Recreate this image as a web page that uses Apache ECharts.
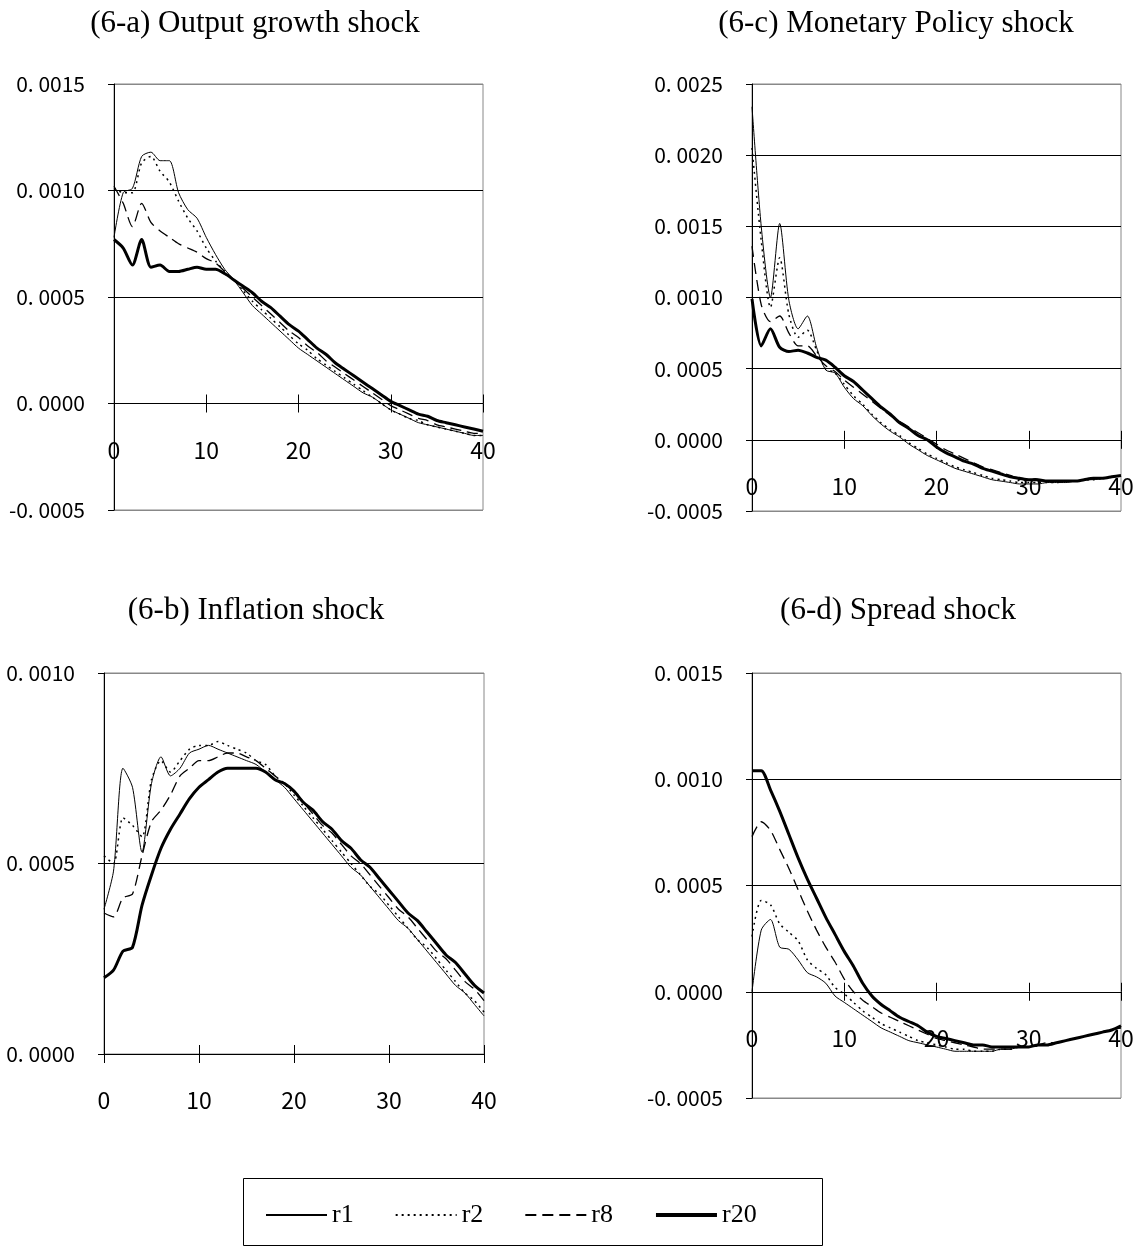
<!DOCTYPE html>
<html>
<head>
<meta charset="utf-8">
<script src="https://cdn.jsdelivr.net/npm/echarts@6/dist/echarts.min.js"></script>
<style>
	html, body { margin: 0; padding: 0; background: #fff; }
	#main { width: 1137px; height: 1247px; }
</style>
</head>
<body>
<div id="main"></div>
<script>
	// series names (legend)
	var seriesNames = [ 'r1', 'r2', 'r8', 'r20' ];

	// (6-a) Output growth shock
	var aR1 = [ 0.00078, 0.00099, 0.00101, 0.00116, 0.00118, 0.00114, 0.00114, 0.00099, 0.00091, 0.00087, 0.00078, 0.00070, 0.00063, 0.00058, 0.00052, 0.00046, 0.00042, 0.00038, 0.00034, 0.00030, 0.00026, 0.00023, 0.00020, 0.00017, 0.00014, 0.00011, 0.00008, 0.00005, 0.00003, 0.00000, -0.00003, -0.00005, -0.00007, -0.00009, -0.00010, -0.00011, -0.00012, -0.00013, -0.00014, -0.00015, -0.00015 ];
	var aR2 = [ 0.00101, 0.00099, 0.00099, 0.00113, 0.00116, 0.00109, 0.00104, 0.00095, 0.00087, 0.00081, 0.00073, 0.00067, 0.00062, 0.00058, 0.00053, 0.00048, 0.00044, 0.00040, 0.00036, 0.00032, 0.00028, 0.00025, 0.00021, 0.00018, 0.00015, 0.00012, 0.00009, 0.00006, 0.00003, 0.00000, -0.00003, -0.00005, -0.00007, -0.00008, -0.00010, -0.00011, -0.00012, -0.00013, -0.00014, -0.00015, -0.00015 ];
	var aR8 = [ 0.00102, 0.00094, 0.00083, 0.00094, 0.00085, 0.00081, 0.00078, 0.00075, 0.00073, 0.00071, 0.00068, 0.00066, 0.00062, 0.00058, 0.00054, 0.00050, 0.00046, 0.00042, 0.00038, 0.00034, 0.00031, 0.00027, 0.00024, 0.00020, 0.00017, 0.00014, 0.00011, 0.00008, 0.00005, 0.00002, -0.00001, -0.00003, -0.00005, -0.00007, -0.00008, -0.00010, -0.00011, -0.00012, -0.00013, -0.00014, -0.00014 ];
	var aR20 = [ 0.00077, 0.00073, 0.00065, 0.00077, 0.00064, 0.00065, 0.00062, 0.00062, 0.00063, 0.00064, 0.00063, 0.00063, 0.00061, 0.00058, 0.00055, 0.00052, 0.00048, 0.00045, 0.00041, 0.00037, 0.00034, 0.00030, 0.00026, 0.00023, 0.00019, 0.00016, 0.00013, 0.00010, 0.00007, 0.00004, 0.00001, -0.00001, -0.00003, -0.00005, -0.00006, -0.00008, -0.00009, -0.00010, -0.00011, -0.00012, -0.00013 ];

	// (6-c) Monetary Policy shock
	var cR1 = [ 0.00234, 0.00150, 0.00100, 0.00152, 0.00098, 0.00078, 0.00087, 0.00065, 0.00049, 0.00047, 0.00037, 0.00029, 0.00024, 0.00017, 0.00011, 0.00006, 0.00002, -0.00003, -0.00007, -0.00011, -0.00014, -0.00017, -0.00020, -0.00022, -0.00024, -0.00026, -0.00028, -0.00029, -0.00030, -0.00031, -0.00031, -0.00031, -0.00030, -0.00030, -0.00030, -0.00029, -0.00028, -0.00028, -0.00027, -0.00026, -0.00025 ];
	var cR2 = [ 0.00205, 0.00140, 0.00093, 0.00128, 0.00088, 0.00072, 0.00077, 0.00063, 0.00050, 0.00047, 0.00039, 0.00031, 0.00025, 0.00018, 0.00012, 0.00007, 0.00003, -0.00002, -0.00006, -0.00010, -0.00013, -0.00016, -0.00019, -0.00021, -0.00023, -0.00025, -0.00027, -0.00028, -0.00029, -0.00030, -0.00030, -0.00030, -0.00030, -0.00030, -0.00029, -0.00029, -0.00028, -0.00028, -0.00027, -0.00026, -0.00025 ];
	var cR8 = [ 0.00136, 0.00095, 0.00083, 0.00087, 0.00075, 0.00066, 0.00066, 0.00059, 0.00052, 0.00048, 0.00042, 0.00037, 0.00032, 0.00027, 0.00022, 0.00017, 0.00013, 0.00009, 0.00005, 0.00001, -0.00003, -0.00007, -0.00010, -0.00013, -0.00016, -0.00019, -0.00021, -0.00023, -0.00025, -0.00027, -0.00028, -0.00029, -0.00029, -0.00029, -0.00029, -0.00029, -0.00028, -0.00027, -0.00027, -0.00026, -0.00025 ];
	var cR20 = [ 0.00099, 0.00066, 0.00078, 0.00065, 0.00062, 0.00063, 0.00061, 0.00058, 0.00056, 0.00051, 0.00045, 0.00041, 0.00035, 0.00029, 0.00023, 0.00018, 0.00012, 0.00008, 0.00003, 0.00000, -0.00005, -0.00009, -0.00012, -0.00015, -0.00017, -0.00020, -0.00022, -0.00024, -0.00026, -0.00027, -0.00028, -0.00028, -0.00029, -0.00029, -0.00029, -0.00029, -0.00028, -0.00027, -0.00027, -0.00026, -0.00025 ];

	// (6-b) Inflation shock
	var bR1 = [ 0.00038, 0.00048, 0.00075, 0.00070, 0.00053, 0.00071, 0.00078, 0.00073, 0.00075, 0.00079, 0.00080, 0.00081, 0.00080, 0.00079, 0.00078, 0.00077, 0.00076, 0.00074, 0.00072, 0.00070, 0.00067, 0.00064, 0.00061, 0.00058, 0.00055, 0.00052, 0.00049, 0.00047, 0.00044, 0.00041, 0.00038, 0.00035, 0.00033, 0.00030, 0.00027, 0.00024, 0.00021, 0.00018, 0.00016, 0.00013, 0.00010 ];
	var bR2 = [ 0.00052, 0.00050, 0.00062, 0.00060, 0.00057, 0.00072, 0.00077, 0.00074, 0.00077, 0.00080, 0.00081, 0.00081, 0.00082, 0.00081, 0.00080, 0.00079, 0.00077, 0.00076, 0.00073, 0.00071, 0.00068, 0.00065, 0.00062, 0.00059, 0.00056, 0.00053, 0.00050, 0.00047, 0.00044, 0.00042, 0.00039, 0.00036, 0.00033, 0.00030, 0.00028, 0.00025, 0.00022, 0.00019, 0.00016, 0.00014, 0.00011 ];
	var bR8 = [ 0.00037, 0.00036, 0.00041, 0.00042, 0.00052, 0.00061, 0.00064, 0.00068, 0.00073, 0.00075, 0.00077, 0.00077, 0.00078, 0.00079, 0.00079, 0.00078, 0.00077, 0.00075, 0.00073, 0.00071, 0.00069, 0.00066, 0.00063, 0.00060, 0.00058, 0.00055, 0.00052, 0.00050, 0.00047, 0.00044, 0.00041, 0.00038, 0.00036, 0.00033, 0.00030, 0.00027, 0.00025, 0.00022, 0.00019, 0.00017, 0.00014 ];
	var bR20 = [ 0.00020, 0.00022, 0.00027, 0.00028, 0.00039, 0.00047, 0.00054, 0.00059, 0.00063, 0.00067, 0.00070, 0.00072, 0.00074, 0.00075, 0.00075, 0.00075, 0.00075, 0.00074, 0.00072, 0.00071, 0.00069, 0.00066, 0.00064, 0.00061, 0.00059, 0.00056, 0.00054, 0.00051, 0.00049, 0.00046, 0.00043, 0.00040, 0.00037, 0.00035, 0.00032, 0.00029, 0.00026, 0.00024, 0.00021, 0.00018, 0.00016 ];

	// (6-d) Spread shock
	var dR1 = [ 0.00000, 0.00029, 0.00034, 0.00021, 0.00020, 0.00015, 0.00009, 0.00007, 0.00004, -0.00002, -0.00005, -0.00008, -0.00011, -0.00014, -0.00017, -0.00019, -0.00021, -0.00023, -0.00024, -0.00025, -0.00026, -0.00027, -0.00028, -0.00028, -0.00028, -0.00028, -0.00028, -0.00027, -0.00027, -0.00026, -0.00026, -0.00025, -0.00025, -0.00024, -0.00023, -0.00022, -0.00021, -0.00020, -0.00019, -0.00018, -0.00017 ];
	var dR2 = [ 0.00026, 0.00043, 0.00041, 0.00032, 0.00028, 0.00024, 0.00015, 0.00011, 0.00008, 0.00002, -0.00001, -0.00005, -0.00009, -0.00012, -0.00015, -0.00017, -0.00019, -0.00021, -0.00023, -0.00024, -0.00025, -0.00026, -0.00027, -0.00027, -0.00028, -0.00028, -0.00028, -0.00027, -0.00027, -0.00026, -0.00026, -0.00025, -0.00025, -0.00024, -0.00023, -0.00022, -0.00021, -0.00020, -0.00019, -0.00018, -0.00017 ];
	var dR8 = [ 0.00073, 0.00080, 0.00076, 0.00067, 0.00058, 0.00048, 0.00038, 0.00029, 0.00021, 0.00014, 0.00006, 0.00000, -0.00004, -0.00007, -0.00010, -0.00012, -0.00014, -0.00016, -0.00018, -0.00020, -0.00022, -0.00023, -0.00024, -0.00025, -0.00026, -0.00027, -0.00027, -0.00027, -0.00027, -0.00026, -0.00026, -0.00025, -0.00024, -0.00024, -0.00023, -0.00022, -0.00021, -0.00020, -0.00019, -0.00018, -0.00017 ];
	var dR20 = [ 0.00104, 0.00104, 0.00095, 0.00085, 0.00074, 0.00063, 0.00053, 0.00044, 0.00035, 0.00027, 0.00019, 0.00012, 0.00004, -0.00002, -0.00006, -0.00009, -0.00012, -0.00014, -0.00016, -0.00019, -0.00021, -0.00022, -0.00023, -0.00024, -0.00025, -0.00025, -0.00026, -0.00026, -0.00026, -0.00026, -0.00026, -0.00025, -0.00025, -0.00024, -0.00023, -0.00022, -0.00021, -0.00020, -0.00019, -0.00018, -0.00016 ];

	// panel titles and y ranges
	var panelTitles = [ '(6-a) Output growth shock', '(6-c) Monetary Policy shock', '(6-b) Inflation shock', '(6-d) Spread shock' ];
	var yMins = [ -0.0005, -0.0005, 0, -0.0005 ];
	var yMaxs = [ 0.0015, 0.0025, 0.0010, 0.0015 ];
	var panelData = [ [ aR1, aR2, aR8, aR20 ], [ cR1, cR2, cR8, cR20 ], [ bR1, bR2, bR8, bR20 ], [ dR1, dR2, dR8, dR20 ] ];

	// layout (px)
	var grids = [
		{ left : 114, top : 84, width : 369, height : 426 },
		{ left : 752, top : 84, width : 369, height : 427 },
		{ left : 104, top : 673, width : 380, height : 381 },
		{ left : 752, top : 673, width : 369, height : 425 }
	];
	var titlePos = [ [ 250, 3 ], [ 891, 3 ], [ 251, 590 ], [ 893, 590 ] ];
	var xLabelGap = 35; // distance of x labels below the zero line

	var numFont = "'Noto Sans CJK JP', 'Liberation Sans', sans-serif";
	var serifFont = "'Liberation Serif', 'Times New Roman', serif";

	// line look per series: r1 thin, r2 dotted, r8 dashed, r20 thick
	var lineStyles = [
		{ color : '#000', width : 1, type : 'solid' },
		{ color : '#000', width : 1.5, type : [ 2, 4 ] },
		{ color : '#000', width : 1.3, type : [ 11, 6 ] },
		{ color : '#000', width : 3, type : 'solid' }
	];

	function yLabel(v) {
		var s = v.toFixed(4);
		if (Math.abs(v) < 1e-10) {
			s = '0.0000';
		}
		return s.replace('.', '. ');
	}

	// inner grid lines black, plot border lines grey
	function splitColors(i) {
		var n = Math.round((yMaxs[i] - yMins[i]) / 0.0005);
		var arr = [];
		for ( var k = 0; k <= n; k++) {
			if (k == n) {
				arr.push('#888');
			} else if (k == 0 && yMins[i] < 0) {
				arr.push('#888');
			} else {
				arr.push('#000');
			}
		}
		return arr;
	}

	// echarts keeps onZero axis labels at the grid edge, so pull them up to the zero line
	function xLabelMargin(i) {
		var below = grids[i].height * (0 - yMins[i]) / (yMaxs[i] - yMins[i]);
		return xLabelGap - below;
	}

	function toPoints(values) {
		var arr = [];
		for ( var j = 0; j < values.length; j++) {
			arr.push([ j, values[j] ]);
		}
		return arr;
	}

	var option = {
		animation : false,
		backgroundColor : '#fff',
		title : [],
		grid : [],
		xAxis : [],
		yAxis : [],
		series : [],
		legend : {
			data : [ 'r1', 'r2', 'r8', {
				name : 'r20',
				lineStyle : { width : 4 }
			} ],
			left : 265,
			top : 1202,
			padding : 0,
			itemWidth : 61,
			itemHeight : 14,
			itemGap : 41,
			itemStyle : { opacity : 0 },
			textStyle : {
				fontFamily : serifFont,
				fontSize : 26,
				color : '#000'
			}
		},
		graphic : [ {
			type : 'rect',
			shape : { x : 243.5, y : 1178.5, width : 579, height : 67 },
			style : { fill : null, stroke : '#000', lineWidth : 1 }
		} ]
	};

	var i;
	// main grids: 0..3
	for (i = 0; i < 4; i++) {
		option.title.push({
			text : panelTitles[i],
			left : titlePos[i][0],
			top : titlePos[i][1],
			textAlign : 'center',
			textStyle : {
				fontFamily : serifFont,
				fontSize : 31,
				fontWeight : 'normal',
				color : '#000'
			}
		});
		option.grid.push({
			left : grids[i].left,
			top : grids[i].top,
			width : grids[i].width,
			height : grids[i].height,
			show : true,
			borderColor : '#888',
			borderWidth : 1,
			backgroundColor : 'transparent',
			outerBoundsMode : 'none'
		});
		option.xAxis.push({
			gridIndex : i,
			type : 'value',
			min : 0,
			max : 40,
			interval : 10,
			axisLine : { show : true, onZero : true, lineStyle : { color : '#000', width : 1 } },
			axisTick : { show : true, inside : false, length : 9, lineStyle : { color : '#000' } },
			axisLabel : {
				margin : xLabelMargin(i),
				fontFamily : numFont,
				fontSize : 23,
				color : '#000'
			},
			splitLine : { show : false }
		});
		option.yAxis.push({
			gridIndex : i,
			type : 'value',
			min : yMins[i],
			max : yMaxs[i],
			interval : 0.0005,
			axisLine : { show : true, onZero : false, lineStyle : { color : '#000', width : 1 } },
			axisTick : { show : true, inside : false, length : 6, lineStyle : { color : '#000' } },
			axisLabel : {
				margin : 29,
				fontFamily : numFont,
				fontSize : 21,
				color : '#000',
				formatter : yLabel
			},
			splitLine : { show : true, lineStyle : { color : splitColors(i), width : 1 } }
		});
	}
	// overlay grids 4..7: only the upper half of the crossing x ticks
	for (i = 0; i < 4; i++) {
		option.grid.push({
			left : grids[i].left,
			top : grids[i].top,
			width : grids[i].width,
			height : grids[i].height,
			show : false,
			outerBoundsMode : 'none'
		});
		option.xAxis.push({
			gridIndex : 4 + i,
			type : 'value',
			min : 0,
			max : 40,
			interval : 10,
			axisLine : { show : false, onZero : true },
			axisTick : { show : true, inside : true, length : 9, lineStyle : { color : '#000' } },
			axisLabel : { show : false },
			splitLine : { show : false }
		});
		option.yAxis.push({
			gridIndex : 4 + i,
			type : 'value',
			min : yMins[i],
			max : yMaxs[i],
			interval : 0.0005,
			axisLine : { show : false, onZero : false },
			axisTick : { show : false },
			axisLabel : { show : false },
			splitLine : { show : false }
		});
	}
	// series in main grids
	for (i = 0; i < 4; i++) {
		for ( var s = 0; s < 4; s++) {
			option.series.push({
				name : seriesNames[s],
				type : 'line',
				xAxisIndex : i,
				yAxisIndex : i,
				data : toPoints(panelData[i][s]),
				symbol : 'none',
				showSymbol : false,
				smooth : 0.25,
				z : 2 + s,
				lineStyle : lineStyles[s],
				itemStyle : { color : '#000' }
			});
		}
	}

	var myChart = echarts.init(document.getElementById('main'));
	myChart.setOption(option, true);
</script>
</body>
</html>
